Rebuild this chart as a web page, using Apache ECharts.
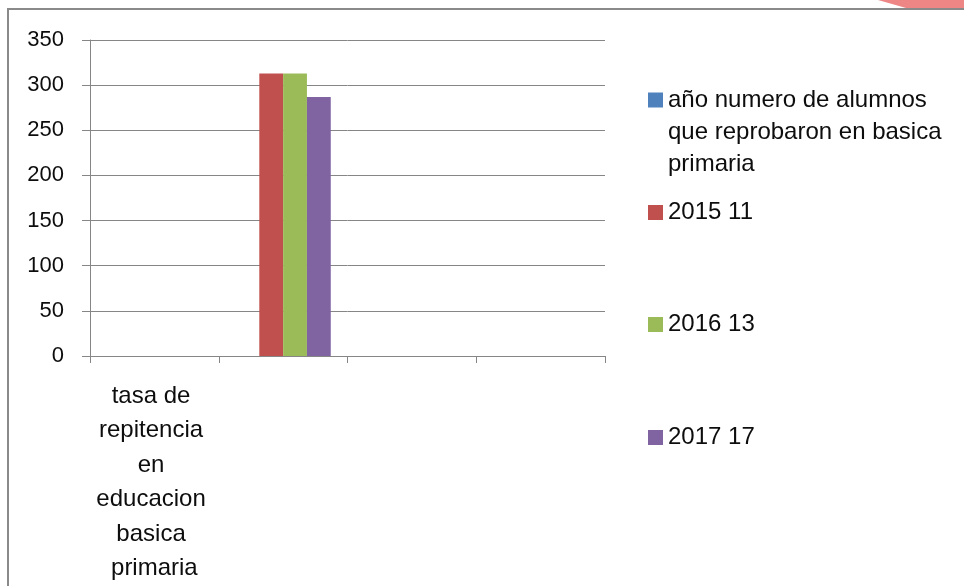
<!DOCTYPE html>
<html>
<head>
<meta charset="utf-8">
<script src="https://cdn.jsdelivr.net/npm/echarts@6/dist/echarts.min.js"></script>
<style>
html,body{margin:0;padding:0;background:#fff;}
#chart{width:964px;height:586px;}
</style>
</head>
<body>
<div id="chart"></div>
<script>
// Data
const categories = ["tasa de repitencia en educacion basica primaria", "", "", ""];
const seriesNames = ["año numero de alumnos que reprobaron en basica primaria", "2015 11", "2016 13", "2017 17"];
const valuesAlumnos = [null, 0, null, null];
const values2015 = [null, 313, null, null];
const values2016 = [null, 313, null, null];
const values2017 = [null, 287, null, null];
const yTicks = { min: 0, max: 350, interval: 50 };

const colors = ["#4F81BD", "#C0504D", "#9BBB59", "#8064A2"];
const FONT = "Liberation Sans";
const GRID = "#868686";
const TXT = "#0d0d0d";

const seriesData = [valuesAlumnos, values2015, values2016, values2017];

const chart = echarts.init(document.getElementById('chart'), null, { renderer: 'canvas' });

// tall icon: square aligned with the first text line, invisible anchors at top/bottom
const TALL_ICON = 'path://M0,0L15,0M0,8.5L15,8.5L15,23.5L0,23.5ZM0,96L15,96';

function mkLegend(i, top, tall) {
  return {
    data: [seriesNames[i]],
    orient: 'vertical',
    left: 648,
    top: top,
    padding: 0,
    itemWidth: 15,
    itemHeight: tall ? 96 : 15,
    selectedMode: false,
    icon: tall ? TALL_ICON : 'rect',
    itemStyle: { borderWidth: 0 },
    textStyle: {
      fontFamily: FONT, fontSize: 24, color: TXT, lineHeight: 32,
      width: 290, overflow: 'break'
    }
  };
}

chart.setOption({
  animation: false,
  color: colors,
  textStyle: { fontFamily: FONT },
  graphic: [
    { type: 'rect', shape: { x: 8, y: 9, width: 1200, height: 1000 }, style: { fill: 'none', stroke: '#8a8a8a', lineWidth: 2 }, silent: true, z: -10 },
    { type: 'polygon', shape: { points: [[878, 0], [964, 0], [964, 8], [906, 8]] }, style: { fill: '#ef8686' }, silent: true }
  ],
  grid: { left: 90, right: 359, top: 40, bottom: 224, containLabel: false },
  legend: [
    mkLegend(0, 84, true),
    mkLegend(1, 196.5, false),
    mkLegend(2, 308.5, false),
    mkLegend(3, 421.5, false)
  ],
  xAxis: {
    type: 'category',
    data: categories,
    boundaryGap: true,
    axisLine: { lineStyle: { color: GRID, width: 1 } },
    axisTick: { show: true, length: 7, lineStyle: { color: GRID }, interval: 0 },
    axisLabel: {
      interval: 0, margin: 23, color: TXT, fontFamily: FONT, fontSize: 24,
      lineHeight: 34.5, width: 122, overflow: 'break', align: 'center'
    },
    splitLine: { show: false }
  },
  yAxis: {
    type: 'value',
    min: yTicks.min, max: yTicks.max, interval: yTicks.interval,
    axisLine: { show: true, lineStyle: { color: GRID, width: 1 } },
    axisTick: { show: true, length: 8, lineStyle: { color: GRID } },
    axisLabel: { margin: 26, color: TXT, fontFamily: FONT, fontSize: 22 },
    splitLine: { show: true, lineStyle: { color: GRID, width: 1 } }
  },
  series: seriesNames.map((name, i) => ({
    name: name,
    type: 'bar',
    data: seriesData[i],
    barGap: '0%',
    barCategoryGap: '26%',
    itemStyle: { color: colors[i] }
  }))
});
</script>
</body>
</html>
